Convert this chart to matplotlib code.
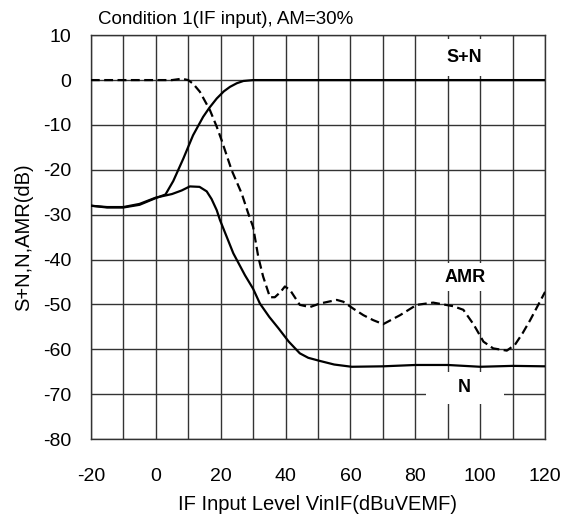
"""
S+N, N and AMR versus IF input level (Condition 1, AM=30%).
"""
import matplotlib

matplotlib.use("Agg")
import matplotlib.pyplot as plt  # noqa: E402
from matplotlib.ticker import MultipleLocator  # noqa: E402

plt.rcParams["font.family"] = ["Liberation Sans", "DejaVu Sans"]
plt.rcParams["axes.unicode_minus"] = False

# S+N (solid)
sn_x = [-20, -15, -10, -5, 0, 3, 5.4, 8.5, 11.5, 14.6, 16.5, 18.8, 21, 22.9,
        25, 27, 30, 40, 60, 80, 100, 120]
sn_y = [-28, -28.4, -28.4, -27.8, -26.3, -25.5, -22.5, -17.5, -12.3, -8.2,
        -6.2, -4.1, -2.5, -1.5, -0.7, -0.2, 0, 0, 0, 0, 0, 0]

# N (solid)
n_x = [-20, -15, -10, -5, 0, 5, 8, 10.5, 13.5, 15.7, 17.2, 18.8, 19.8, 21.8,
       23.9, 27.5, 30, 32.1, 35, 37.8, 41, 44.4, 47, 50.6, 55, 60.4, 70, 80,
       90, 100, 110, 120]
n_y = [-28, -28.3, -28.3, -27.6, -26.2, -25.4, -24.6, -23.7, -23.8, -24.8,
       -26.5, -29, -31.2, -34.8, -38.6, -43.5, -46.5, -49.8, -52.8, -55.3,
       -58.3, -60.9, -61.9, -62.6, -63.4, -63.9, -63.8, -63.5, -63.5, -63.9,
       -63.7, -63.8]

# AMR (dashed)
amr_x = [-20, -10, 0, 5, 8, 10, 11.5, 13.6, 16.7, 18.8, 20.3, 23.4, 26.5,
         28.5, 30, 31.6, 33.1, 35.2, 36.7, 38.5, 39.8, 41.4, 44.4, 47.5, 50.6,
         55.8, 57.8, 61, 64, 67, 70.1, 75.3, 80.4, 85.5, 91.7, 94.8, 98, 101,
         104, 108.2, 110.7, 113, 115.4, 120]
amr_y = [0, 0, 0, 0, 0.3, 0, -0.8, -2.6, -6.7, -10.4, -13.4, -20.1, -25.3,
         -29.7, -32.7, -39.4, -43.8, -48.4, -48.4, -47.2, -46, -46.8, -50.1,
         -50.6, -49.8, -49, -49.4, -51, -52.4, -53.5, -54.4, -52.4, -50.1,
         -49.6, -50.4, -51.2, -54.5, -58.3, -59.8, -60.3, -59, -56.5, -53.5,
         -47.2]

fig = plt.figure(figsize=(5.75, 5.18), dpi=100)
ax = fig.add_axes([0.158, 0.1525, 0.79, 0.7795])

ax.plot(sn_x, sn_y, color="black", lw=1.6, zorder=3)
ax.plot(n_x, n_y, color="black", lw=1.6, zorder=3)
ax.plot(amr_x, amr_y, color="black", lw=1.6, ls=(0, (4, 2)), zorder=3)

ax.set_xlim(-20, 120)
ax.set_ylim(-80, 10)
ax.xaxis.set_major_locator(MultipleLocator(20))
ax.xaxis.set_minor_locator(MultipleLocator(10))
ax.yaxis.set_major_locator(MultipleLocator(10))
ax.grid(True, which="both", color="#333333", lw=1.0, zorder=1)
ax.tick_params(which="both", length=0, labelsize=14, pad=14)
ax.tick_params(axis="x", pad=21)
for s in ax.spines.values():
    s.set_color("#333333")
    s.set_linewidth(1.0)

ax.text(95, 5, "S+N", fontsize=13, fontweight="bold", ha="center",
        va="center", zorder=4, bbox=dict(facecolor="white", edgecolor="none",
                                         boxstyle="square,pad=0.55"))
ax.text(95.3, -43.9, "AMR", fontsize=13, fontweight="bold", ha="center",
        va="center", zorder=4, bbox=dict(facecolor="white", edgecolor="none",
                                         boxstyle="square,pad=0.3"))
ax.text(95.3, -68.6, "     N     ", fontsize=13, fontweight="bold",
        ha="center", va="center", zorder=4,
        bbox=dict(facecolor="white", edgecolor="none",
                  boxstyle="square,pad=0.4"))

ax.set_xlabel("IF Input Level VinIF(dBuVEMF)", fontsize=14.5, labelpad=7)
ax.set_ylabel("S+N,N,AMR(dB)", fontsize=14.5)
ax.yaxis.set_label_coords(-0.128, 0.5)
fig.text(98 / 575, 1 - 19 / 518, "Condition 1(IF input), AM=30%",
         fontsize=13.5, ha="left", va="center")

fig.savefig("out.png", dpi=100)
